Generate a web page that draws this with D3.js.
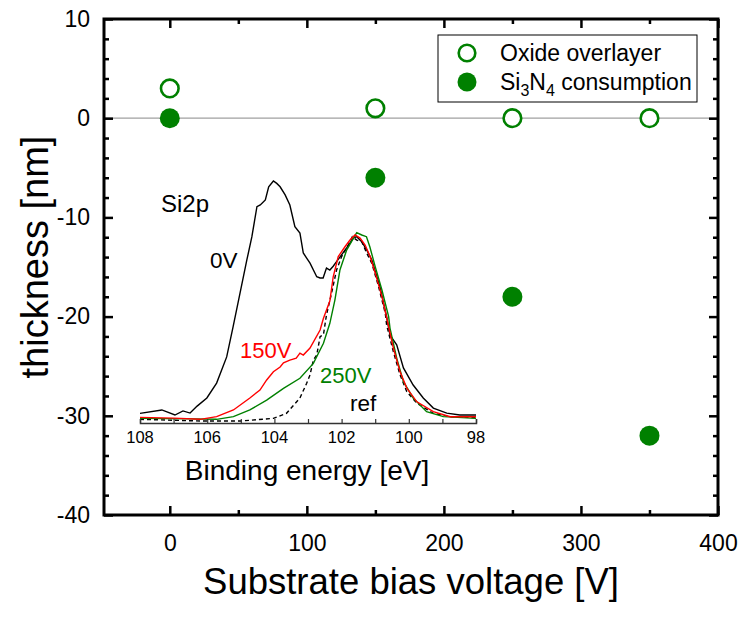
<!DOCTYPE html>
<html>
<head>
<meta charset="utf-8">
<script src="https://cdn.jsdelivr.net/npm/d3@7"></script>
<style>
  body { margin: 0; background: #fff; }
  svg { font-family: "Liberation Sans", Arial, sans-serif; }
</style>
</head>
<body>
<div id="chart"></div>
<script>
// main data
const voltage = [0, 150, 250, 350];
const oxideOverlayer = [3, 1, 0, 0];
const si3n4Consumption = [0, -6, -18, -32];
const xTicks = [0, 100, 200, 300, 400];
const yTicks = [-40, -30, -20, -10, 0, 10];

// inset Si2p spectra (binding energy eV, normalized intensity)
const e0V = [108, 107.35, 106.96, 106.72, 106.51, 106.3, 106.01, 105.72, 105.42, 105.23, 105.06, 104.82, 104.67, 104.52, 104.42, 104.27, 104.17, 104.03, 103.93, 103.83, 103.68, 103.54, 103.39, 103.24, 103.14, 103.04, 102.94, 102.74, 102.64, 102.55, 102.45, 102.35, 102.25, 102.15, 101.85, 101.65, 101.55, 101.4, 101.25, 101.1, 100.86, 100.66, 100.56, 100.36, 100.16, 99.87, 99.57, 99.27, 98.87, 98.48, 98];
const i0V = [0.032, 0.046, 0.025, 0.042, 0.033, 0.062, 0.096, 0.158, 0.267, 0.392, 0.508, 0.671, 0.768, 0.893, 0.9, 0.921, 0.976, 1.0, 0.99, 0.976, 0.942, 0.9, 0.81, 0.783, 0.7, 0.679, 0.658, 0.601, 0.596, 0.596, 0.637, 0.629, 0.645, 0.664, 0.721, 0.762, 0.768, 0.747, 0.712, 0.671, 0.56, 0.435, 0.358, 0.317, 0.221, 0.15, 0.096, 0.054, 0.033, 0.025, 0.025];

const e150V = [108, 107, 106.21, 105.72, 105.22, 104.73, 104.43, 104.23, 104.03, 103.83, 103.73, 103.54, 103.35, 103.24, 103.14, 102.94, 102.64, 102.54, 102.35, 102.25, 102.1, 101.9, 101.75, 101.6, 101.45, 101.3, 101.15, 101.0, 100.8, 100.65, 100.46, 100.26, 100.06, 99.76, 99.27, 98.77, 98];
const i150V = [0.015, 0.012, 0.007, 0.018, 0.046, 0.096, 0.129, 0.171, 0.205, 0.225, 0.242, 0.254, 0.262, 0.283, 0.275, 0.304, 0.379, 0.428, 0.5, 0.601, 0.685, 0.726, 0.754, 0.775, 0.762, 0.733, 0.685, 0.617, 0.518, 0.425, 0.304, 0.205, 0.137, 0.08, 0.039, 0.018, 0.018];

const e250V = [108, 106.5, 105.72, 105.22, 104.73, 104.23, 103.73, 103.24, 102.84, 102.54, 102.35, 102.2, 102.05, 101.85, 101.65, 101.55, 101.4, 101.26, 101.16, 101.0, 100.8, 100.6, 100.56, 100.36, 100.16, 99.87, 99.47, 98.97, 98];
const i250V = [0.011, 0.009, 0.007, 0.018, 0.046, 0.087, 0.136, 0.178, 0.24, 0.324, 0.407, 0.504, 0.629, 0.712, 0.761, 0.785, 0.775, 0.768, 0.726, 0.643, 0.546, 0.435, 0.387, 0.262, 0.164, 0.096, 0.039, 0.018, 0.011];

const eRef = [108, 106.2, 105.0, 104.03, 103.64, 103.24, 103.04, 102.94, 102.84, 102.74, 102.64, 102.54, 102.45, 102.3, 102.15, 102.0, 101.8, 101.68, 101.55, 101.4, 101.25, 101.1, 100.9, 100.7, 100.66, 100.46, 100.26, 100.06, 99.76, 99.27, 98.77, 98];
const iRef = [0.007, 0.0, 0.0, 0.011, 0.032, 0.096, 0.157, 0.192, 0.254, 0.275, 0.351, 0.36, 0.442, 0.532, 0.629, 0.685, 0.733, 0.768, 0.754, 0.747, 0.699, 0.657, 0.56, 0.449, 0.4, 0.289, 0.192, 0.122, 0.074, 0.032, 0.018, 0.014];

const insetTicks = [108, 106, 104, 102, 100, 98];

const width = 743, height = 617;
const green = '#008000';

const svg = d3.select('#chart').append('svg')
  .attr('width', width)
  .attr('height', height);

const x = d3.scaleLinear().domain([-48, 400]).range([104, 718]);
const y = d3.scaleLinear().domain([-40, 10]).range([515, 19]);

// zero line
svg.append('line')
  .attr('x1', x(-48)).attr('x2', x(400))
  .attr('y1', y(0)).attr('y2', y(0))
  .attr('stroke', '#a0a0a0').attr('stroke-width', 1.2);

// ---- inset ----
const ix = d3.scaleLinear().domain([108, 98]).range([140, 476]);
const iy = d3.scaleLinear().domain([0, 1]).range([421, 181]);
const inset = svg.append('g');

const curve = d3.line()
  .x(d => ix(d[0]))
  .y(d => iy(d[1]));

const spectra = [
  { e: eRef, i: iRef, color: '#000', dash: '4,3' },
  { e: e0V, i: i0V, color: '#000', dash: null },
  { e: e250V, i: i250V, color: '#008000', dash: null },
  { e: e150V, i: i150V, color: '#ff0000', dash: null }
];
spectra.forEach(s => {
  inset.append('path')
    .datum(d3.zip(s.e, s.i))
    .attr('d', curve)
    .attr('fill', 'none')
    .attr('stroke', s.color)
    .attr('stroke-width', 1.4)
    .attr('stroke-dasharray', s.dash);
});

const insetAxis = inset.append('g')
  .attr('transform', `translate(0, 423)`)
  .call(d3.axisBottom(ix).tickValues(d3.range(98, 109, 1)).tickSize(-4).tickFormat(''));
insetAxis.select('.domain').attr('stroke', '#333').attr('stroke-width', 1.5);
insetAxis.selectAll('.tick line').attr('stroke', '#333').attr('stroke-width', 1.2);

inset.selectAll('.itl')
  .data(insetTicks)
  .enter().append('text')
  .attr('x', d => ix(d))
  .attr('y', 443)
  .attr('text-anchor', 'middle')
  .style('font-size', '16.5px')
  .text(d => d);

inset.append('text')
  .attr('x', 307)
  .attr('y', 480)
  .attr('text-anchor', 'middle')
  .style('font-size', '28px')
  .text('Binding energy [eV]');

const labels = [
  { t: 'Si2p', x: 161, y: 212, c: '#000', s: 24 },
  { t: '0V', x: 210, y: 268, c: '#000', s: 22.5 },
  { t: '150V', x: 240, y: 358, c: '#ff0000', s: 22 },
  { t: '250V', x: 320, y: 383, c: green, s: 22 },
  { t: 'ref', x: 350, y: 411, c: '#000', s: 22.5 }
];
labels.forEach(l => {
  inset.append('text')
    .attr('x', l.x).attr('y', l.y)
    .attr('fill', l.c)
    .style('font-size', l.s + 'px')
    .text(l.t);
});

// ---- main axes ----
function styleAxis(g) {
  g.select('.domain').remove();
  g.selectAll('.tick line').attr('stroke', '#000').attr('stroke-width', 2.5);
  g.selectAll('.tick text').style('font-size', '23px').attr('fill', '#000');
}
const fmt = d => String(d);

const xMinor = d3.range(-0, 401, 50).filter(v => v % 100 !== 0);
const yMinor = d3.range(-40, 11, 2).filter(v => v % 10 !== 0);

// bottom
svg.append('g').attr('transform', `translate(0, ${y(-40)})`)
  .call(d3.axisBottom(x).tickValues(xTicks).tickSize(-9).tickPadding(20).tickFormat(fmt))
  .call(styleAxis);
svg.append('g').attr('transform', `translate(0, ${y(-40)})`)
  .call(d3.axisBottom(x).tickValues(xMinor).tickSize(-5).tickFormat(''))
  .call(styleAxis);
// top
svg.append('g').attr('transform', `translate(0, ${y(10)})`)
  .call(d3.axisTop(x).tickValues(xTicks).tickSize(-9).tickFormat(''))
  .call(styleAxis);
svg.append('g').attr('transform', `translate(0, ${y(10)})`)
  .call(d3.axisTop(x).tickValues(xMinor).tickSize(-5).tickFormat(''))
  .call(styleAxis);
// left
svg.append('g').attr('transform', `translate(${x(-48)}, 0)`)
  .call(d3.axisLeft(y).tickValues(yTicks).tickSize(-9).tickPadding(14).tickFormat(fmt))
  .call(styleAxis);
svg.append('g').attr('transform', `translate(${x(-48)}, 0)`)
  .call(d3.axisLeft(y).tickValues(yMinor).tickSize(-5).tickFormat(''))
  .call(styleAxis);
// right
svg.append('g').attr('transform', `translate(${x(400)}, 0)`)
  .call(d3.axisRight(y).tickValues(yTicks).tickSize(-9).tickFormat(''))
  .call(styleAxis);
svg.append('g').attr('transform', `translate(${x(400)}, 0)`)
  .call(d3.axisRight(y).tickValues(yMinor).tickSize(-5).tickFormat(''))
  .call(styleAxis);

// frame
svg.append('rect')
  .attr('x', x(-48)).attr('y', y(10))
  .attr('width', x(400) - x(-48)).attr('height', y(-40) - y(10))
  .attr('fill', 'none').attr('stroke', '#000').attr('stroke-width', 3);

// axis titles
svg.append('text')
  .attr('x', 411).attr('y', 594)
  .attr('text-anchor', 'middle')
  .style('font-size', '36.5px')
  .text('Substrate bias voltage [V]');

svg.append('text')
  .attr('transform', `translate(48, 257) rotate(-90)`)
  .attr('text-anchor', 'middle')
  .style('font-size', '38px')
  .text('thickness [nm]');

// ---- markers ----
svg.selectAll('.oxide')
  .data(d3.zip(voltage, oxideOverlayer))
  .enter().append('circle')
  .attr('cx', d => x(d[0])).attr('cy', d => y(d[1]))
  .attr('r', 8.8)
  .attr('fill', '#fff')
  .attr('stroke', green).attr('stroke-width', 2.6);

svg.selectAll('.cons')
  .data(d3.zip(voltage, si3n4Consumption))
  .enter().append('circle')
  .attr('cx', d => x(d[0])).attr('cy', d => y(d[1]))
  .attr('r', 10)
  .attr('fill', green);

// ---- legend ----
const legend = svg.append('g');
legend.append('rect')
  .attr('x', 438).attr('y', 35).attr('width', 259).attr('height', 67)
  .attr('fill', '#fff').attr('stroke', '#000').attr('stroke-width', 1);
legend.append('circle')
  .attr('cx', 467).attr('cy', 53).attr('r', 8.3)
  .attr('fill', '#fff').attr('stroke', green).attr('stroke-width', 2.6);
legend.append('circle')
  .attr('cx', 467).attr('cy', 82).attr('r', 9.5)
  .attr('fill', green);
legend.append('text')
  .attr('x', 500).attr('y', 61)
  .style('font-size', '23px')
  .text('Oxide overlayer');
const t2 = legend.append('text')
  .attr('x', 500).attr('y', 90)
  .style('font-size', '23px');
t2.append('tspan').text('Si');
t2.append('tspan').attr('dy', 6).style('font-size', '16px').text('3');
t2.append('tspan').attr('dy', -6).text('N');
t2.append('tspan').attr('dy', 6).style('font-size', '16px').text('4');
t2.append('tspan').attr('dy', -6).text(' consumption');
</script>
</body>
</html>
